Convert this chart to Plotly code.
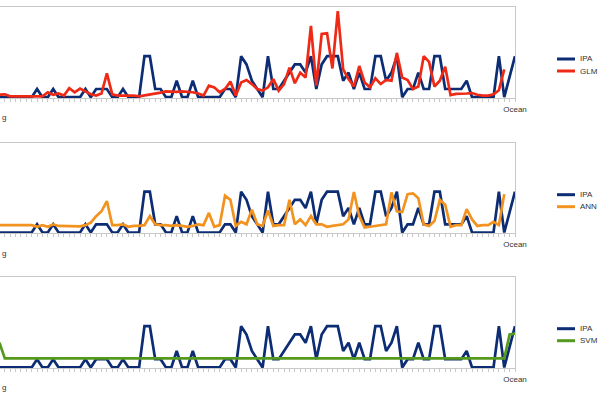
import plotly.graph_objects as go

# ---------------- data ----------------
ipa = [0, 0, 0, 0, 0, 0, 0, 1, 0, 0,
       1, 0, 0, 0, 0, 0, 1, 0, 1, 1,
       1, 0, 0, 1, 0, 0, 0, 5, 5, 1,
       1, 0, 0, 2, 0, 0, 2, 0, 0, 0,
       0, 0, 1, 1, 0, 5, 4, 2, 1, 0,
       5, 1, 1, 2, 3, 4, 4, 3, 5, 1,
       4, 5, 5, 5, 2, 3, 1, 3, 1, 1,
       5, 5, 2, 3, 5, 0, 1, 1, 3, 1,
       1, 5, 5, 1, 1, 1, 1, 2, 0, 0,
       0, 0, 0, 5, 0, 2.5, 5]

glm = [0.3, 0.35, 0.1, 0.1, 0.1, 0.1, 0.1, 0.1, 0.1, 0.6,
       0.3, 0.45, 0.2, 1.1, 0.6, 1.05, 0.75, 0.35, 0.2, 0.45,
       2.9, 0.35, 0.2, 0.2, 0.2, 0.2, 0.1, 0.2, 0.35, 0.45,
       0.55, 0.7, 0.65, 0.65, 0.7, 0.65, 0.6, 0.45, 0.2, 1.4,
       1.2, 0.6, 1.0, 1.9, 0.2, 1.8, 2.1, 1.6, 1.0, 0.8,
       1.2, 2.2, 0.8, 1.6, 3.6, 1.7, 3.0, 2.4, 8.7, 1.4,
       7.7, 7.8, 3.5, 10.5, 3.4, 2.2, 1.3, 3.8, 1.8, 1.2,
       2.3, 1.6, 2.1, 2.0, 5.4, 2.4, 2.1, 1.0, 1.3, 5.0,
       4.3, 1.3, 2.0, 3.7, 0.25, 0.4, 0.4, 0.45, 0.5, 0.3,
       0.2, 0.2, 0.35, 0.85, 3.4, None, None]

ann = [0.9, 0.9, 0.9, 0.9, 0.9, 0.9, 0.9, 0.7, 0.9, 0.7,
       1.0, 0.8, 0.8, 0.75, 0.8, 0.75, 0.9, 1.2, 2.0, 2.6,
       3.85, 0.9, 0.9, 1.0, 0.7, 0.8, 0.8, 0.9, 2.0, 1.0,
       0.9, 0.9, 0.8, 0.9, 0.8, 0.7, 0.8, 1.0, 0.9, 2.4,
       0.7, 0.9, 4.5, 4.0, 0.8, 1.3, 1.0, 2.8, 1.0, 0.8,
       2.7, 0.8, 0.9, 0.9, 4.0, 1.0, 1.6, 0.9, 2.0, 1.0,
       1.0, 0.7, 0.8, 0.9, 1.0, 1.6, 4.95, 2.0, 0.6, 0.7,
       0.8, 0.9, 1.0, 4.9, 2.6, 2.5, 4.7, 4.8, 4.2, 1.0,
       0.8, 1.4, 4.0, 3.4, 0.7, 0.9, 0.9, 2.85, 1.6, 0.8,
       0.9, 0.9, 1.3, 0.9, 4.7, None, None]

svm = [3.0, 1.1, 1.1, 1.1, 1.1, 1.1, 1.1, 1.1, 1.1, 1.1,
       1.1, 1.1, 1.1, 1.1, 1.1, 1.1, 1.1, 1.1, 1.1, 1.1,
       1.1, 1.1, 1.1, 1.1, 1.1, 1.1, 1.1, 1.1, 1.1, 1.1,
       1.1, 1.1, 1.1, 1.1, 1.1, 1.1, 1.1, 1.1, 1.1, 1.1,
       1.1, 1.1, 1.1, 1.1, 1.1, 1.1, 1.1, 1.1, 1.1, 1.1,
       1.1, 1.1, 1.1, 1.1, 1.1, 1.1, 1.1, 1.1, 1.1, 1.1,
       1.1, 1.1, 1.1, 1.1, 1.1, 1.1, 1.1, 1.1, 1.1, 1.1,
       1.1, 1.1, 1.1, 1.1, 1.1, 1.1, 1.1, 1.1, 1.1, 1.1,
       1.1, 1.1, 1.1, 1.1, 1.1, 1.1, 1.1, 1.1, 1.1, 1.1,
       1.1, 1.1, 1.1, 1.1, 1.1, 4.0, 4.1]

series_names = ["GLM", "ANN", "SVM"]
base_name = "IPA"
first_label_tail = "g"      # end of a clipped first category label
last_label = "Ocean"

n = len(ipa)
x_idx = list(range(n))
tick_text = [""] * (n - 1) + [last_label]

# ---------------- style ----------------
W, H = 600, 400
BLUE = "#0c2c74"
COLS = ["#ee2a16", "#f2921f", "#559a1f"]
AXIS = "#c8c8c8"
TXT = "#333333"
FONT = "Liberation Sans, Arial, sans-serif"

plot_right_px = 515
step_px = 5.37
panel_px = [(7, 98), (142.7, 233.3), (276.7, 368.3)]
x_lo = (n - 1) - plot_right_px / step_px

fig = go.Figure()
layout = dict(
    width=W, height=H, margin=dict(l=0, r=0, t=0, b=0),
    paper_bgcolor="white", plot_bgcolor="white",
    showlegend=False, font=dict(family=FONT, size=8, color=TXT),
)
shapes, annots = [], []

for k, (name, vals, col) in enumerate(zip(series_names, [glm, ann, svm], COLS)):
    sfx = "" if k == 0 else str(k + 1)
    xa, ya = "x" + sfx, "y" + sfx
    fig.add_trace(go.Scatter(x=x_idx, y=ipa, mode="lines", name=base_name,
                             line=dict(color=BLUE, width=2.7), xaxis=xa, yaxis=ya))
    fig.add_trace(go.Scatter(x=x_idx, y=vals, mode="lines", name=name,
                             line=dict(color=col, width=2.7), connectgaps=False,
                             xaxis=xa, yaxis=ya))
    top, bot = panel_px[k]
    layout["xaxis" + sfx] = dict(
        domain=[0, plot_right_px / W], range=[x_lo, n - 1], anchor=ya,
        showline=True, linecolor=AXIS, linewidth=1, mirror=True,
        ticks="outside", ticklen=3, tickcolor=AXIS, tickwidth=1,
        tickmode="array", tickvals=x_idx, ticktext=tick_text,
        tickfont=dict(size=8, color=TXT, family=FONT),
        showgrid=False, zeroline=False, automargin=False, tickangle=0,
    )
    layout["yaxis" + sfx] = dict(
        domain=[1 - bot / H, 1 - top / H], range=[-0.1, 11.0], anchor=xa,
        side="right", showline=True, linecolor=AXIS, linewidth=1,
        showticklabels=False, ticks="", showgrid=False, zeroline=False,
        automargin=False,
    )
    # legend (drawn manually to match the compact original layout)
    for j, (lab, c) in enumerate([(base_name, BLUE), (name, col)]):
        yy = 1 - (top + 52 + 12 * j) / H
        shapes.append(dict(type="line", xref="paper", yref="paper",
                           x0=557 / W, x1=575 / W, y0=yy, y1=yy,
                           line=dict(color=c, width=3)))
        annots.append(dict(text=lab, xref="paper", yref="paper", x=578 / W, y=yy,
                           xanchor="left", yanchor="middle", showarrow=False,
                           font=dict(size=8, color=TXT, family=FONT)))
    annots.append(dict(text=first_label_tail, xref="paper", yref="paper",
                       x=0, y=1 - (top + 111) / H, xanchor="left", yanchor="middle",
                       showarrow=False, font=dict(size=8, color=TXT, family=FONT)))

layout["shapes"] = shapes
layout["annotations"] = annots
fig.update_layout(**layout)
fig.write_html("out.html")
